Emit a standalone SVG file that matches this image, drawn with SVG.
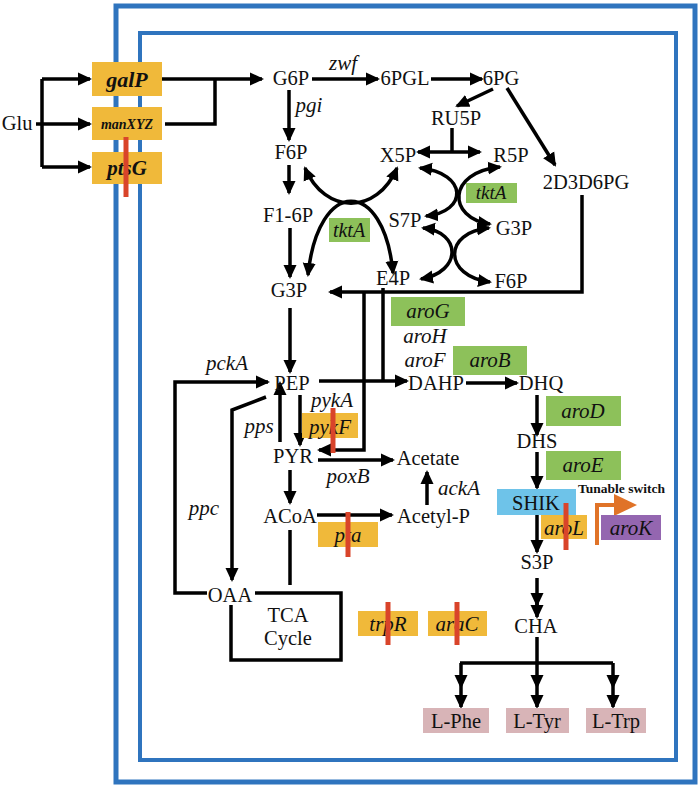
<svg xmlns="http://www.w3.org/2000/svg" width="700" height="787" viewBox="0 0 700 787">
<style>
.t{font-family:"Liberation Serif","Times New Roman",serif;font-size:20.5px;fill:#111;text-anchor:middle}
.g{font-family:"Liberation Serif","Times New Roman",serif;font-size:21px;font-style:italic;fill:#111;text-anchor:middle}
.c{fill:none;stroke:#000;stroke-width:3.5}
.a{marker-end:url(#ah)}
.b{marker-start:url(#ah);marker-end:url(#ah)}
.yel{fill:#F0B93A}
.grn{fill:#8DC15A}
.pink{fill:#D8B4B7}
.ko{stroke:#D9442A;stroke-width:5;fill:none}
.blue{fill:none;stroke:#2F74BE}
</style>
<defs>
<marker id="ah" markerUnits="userSpaceOnUse" markerWidth="15" markerHeight="14" refX="12" refY="7" orient="auto-start-reverse" viewBox="0 0 15 14">
<path d="M0,0.5 L14,7 L0,13.5 z" fill="#000"/>
</marker>
</defs>
<rect width="700" height="787" fill="#fff"/>
<rect class="blue" x="116" y="6" width="579" height="776" stroke-width="5"/>
<rect class="blue" x="140" y="33" width="536" height="727" stroke-width="4"/>

<g id="connectors">
<path class="c" d="M36,124 H42 M42,79 V167"/>
<path class="c a" d="M42,79 H90"/>
<path class="c a" d="M42,124 H90"/>
<path class="c a" d="M42,167 H90"/>
<path class="c a" d="M162,79 H262"/>
<path class="c" d="M165,124 H215 V79"/>
<path class="c a" d="M312,79 H378"/>
<path class="c a" d="M431,79 H482"/>
<path class="c a" d="M493,89 L457,106"/>
<path class="c a" d="M507,88 L555,165"/>
<path class="c a" d="M289,90 V140"/>
<path class="c a" d="M289,165 V193"/>
<path class="c a" d="M290,228 V277"/>
<path class="c" d="M452,128 V152"/>
<path class="c b" d="M418,152 H480"/>
<path class="c b" d="M305,168 C325,215 377,215 397,168"/>
<path class="c b" d="M308,275 C318,177 384,177 393,273"/>
<path class="c b" d="M420,168 C468,173 468,212 426,216"/>
<path class="c b" d="M500,167 C447,172 447,218 490,224"/>
<path class="c b" d="M423,228 C462,232 462,272 421,279"/>
<path class="c b" d="M489,228 C443,232 443,276 490,282"/>
<path class="c a" d="M582,195 V292 H330"/>
<path class="c" d="M383,288 V380"/>
<path class="c a" d="M364,292 V450 H319"/>
<path class="c a" d="M290,308 V372"/>
<path class="c a" d="M319,381 H407"/>
<path class="c a" d="M466,383 H517"/>
<path class="c a" d="M537,395 V435"/>
<path class="c a" d="M537,452 V488"/>
<path class="c a" d="M537,515 V552"/>
<path class="c a" d="M537,578 V605"/>
<path class="c a" d="M537,603 V617"/>
<path class="c" d="M537,637 V663 M460,663 H613"/>
<path class="c a" d="M461,663 V687"/>
<path class="c a" d="M461,687 V707"/>
<path class="c a" d="M537,663 V687"/>
<path class="c a" d="M537,687 V707"/>
<path class="c a" d="M613,663 V687"/>
<path class="c a" d="M613,687 V707"/>
<path class="c a" d="M207,593 H175 V382 H268"/>
<path class="c a" d="M266,397 L232,410 V580"/>
<path class="c a" d="M280,442 V383"/>
<path class="c a" d="M300,395 V445"/>
<path class="c a" d="M290,470 V503"/>
<path class="c a" d="M318,460 H393"/>
<path class="c a" d="M317,515 H392"/>
<path class="c a" d="M427,505 V472"/>
<path class="c" d="M290,530 V585"/>
<path class="c" d="M255,593 H341 V660 H231 V605"/>
<path d="M597,545 V505 H618" fill="none" stroke="#E07328" stroke-width="4"/>
<path d="M614,494 L637,505 L614,516 z" fill="#E07328"/>
</g>

<g id="Glu"><text class="t" x="17" y="130">Glu</text></g>
<g id="galP"><rect class="yel" x="92" y="62" width="70" height="34"/><text class="g" x="127" y="87" font-weight="bold" style="font-size:22px">galP</text></g>
<g id="manXYZ"><rect class="yel" x="92" y="107" width="70" height="33"/><text class="g" x="127" y="129" font-weight="bold" style="font-size:14px">manXYZ</text></g>
<g id="ptsG"><rect class="yel" x="92" y="152" width="70" height="32"/><text class="g" x="127" y="175" font-weight="bold">ptsG</text><path class="ko" d="M126,137 V197"/></g>

<g id="G6P"><text class="t" x="291" y="85">G6P</text></g>
<g id="zwf"><text class="g" x="343" y="70">zwf</text></g>
<g id="6PGL"><text class="t" x="405" y="85">6PGL</text></g>
<g id="6PG"><text class="t" x="501" y="85">6PG</text></g>
<g id="RU5P"><text class="t" x="456" y="125">RU5P</text></g>
<g id="2D3D6PG"><text class="t" x="586" y="189">2D3D6PG</text></g>
<g id="pgi"><text class="g" x="309" y="112">pgi</text></g>
<g id="F6P"><text class="t" x="291" y="159">F6P</text></g>
<g id="F1-6P"><text class="t" x="288" y="222">F1-6P</text></g>
<g id="G3P"><text class="t" x="289" y="297">G3P</text></g>
<g id="X5P"><text class="t" x="398" y="162">X5P</text></g>
<g id="R5P"><text class="t" x="511" y="162">R5P</text></g>
<g id="S7P"><text class="t" x="405" y="227">S7P</text></g>
<g id="G3P-2"><text class="t" x="514" y="235">G3P</text></g>
<g id="E4P"><text class="t" x="393" y="285">E4P</text></g>
<g id="F6P-2"><text class="t" x="511" y="288">F6P</text></g>
<g id="tktA-1"><rect class="grn" x="329" y="218" width="41" height="24"/><text class="g" x="349" y="237" style="font-size:20px">tktA</text></g>
<g id="tktA-2"><rect class="grn" x="466" y="183" width="51" height="20"/><text class="g" x="491" y="199" style="font-size:19px">tktA</text></g>

<g id="aroG"><rect class="grn" x="391" y="297" width="74" height="29"/><text class="g" x="428" y="318">aroG</text></g>
<g id="aroH"><text class="g" x="425" y="343">aroH</text></g>
<g id="aroF"><text class="g" x="425" y="367">aroF</text></g>
<g id="aroB"><rect class="grn" x="453" y="346" width="74" height="29"/><text class="g" x="490" y="367">aroB</text></g>
<g id="DAHP"><text class="t" x="436" y="390">DAHP</text></g>
<g id="DHQ"><text class="t" x="541" y="390">DHQ</text></g>
<g id="aroD"><rect class="grn" x="546" y="396" width="75" height="30"/><text class="g" x="583" y="418">aroD</text></g>
<g id="DHS"><text class="t" x="537" y="448">DHS</text></g>
<g id="aroE"><rect class="grn" x="546" y="451" width="75" height="29"/><text class="g" x="583" y="472">aroE</text></g>
<g id="SHIK"><rect x="497" y="489" width="79" height="26" fill="#6EC3E9"/><text class="t" x="536" y="510">SHIK</text></g>
<g id="aroL"><rect class="yel" x="541" y="515" width="46" height="24"/><text class="g" x="564" y="535">aroL</text><path class="ko" d="M566,503 V550"/></g>
<g id="switch"><text x="578" y="493" style="font-family:'Liberation Serif','Times New Roman',serif;font-size:13.5px;font-weight:bold;fill:#111">Tunable switch</text></g>
<g id="aroK"><rect x="601" y="515" width="60" height="25" fill="#9466B0"/><text class="g" x="631" y="535">aroK</text></g>
<g id="S3P"><text class="t" x="537" y="569">S3P</text></g>
<g id="CHA"><text class="t" x="536" y="633">CHA</text></g>
<g id="L-Phe"><rect class="pink" x="423" y="708" width="66" height="25"/><text class="t" x="456" y="728">L-Phe</text></g>
<g id="L-Tyr"><rect class="pink" x="506" y="708" width="63" height="25"/><text class="t" x="537" y="728">L-Tyr</text></g>
<g id="L-Trp"><rect class="pink" x="586" y="708" width="60" height="25"/><text class="t" x="616" y="728">L-Trp</text></g>
<g id="trpR"><rect class="yel" x="358" y="611" width="60" height="25"/><text class="g" x="388" y="631">trpR</text><path class="ko" d="M388,602 V645"/></g>
<g id="araC"><rect class="yel" x="428" y="611" width="59" height="25"/><text class="g" x="457" y="631">araC</text><path class="ko" d="M457,602 V645"/></g>

<g id="PEP"><text class="t" x="292" y="390">PEP</text></g>
<g id="pckA"><text class="g" x="227" y="370">pckA</text></g>
<g id="pps"><text class="g" x="259" y="433">pps</text></g>
<g id="pykA"><text class="g" x="332" y="407">pykA</text></g>
<g id="pykF"><rect class="yel" x="302" y="413" width="56" height="25"/><text class="g" x="330" y="434">pykF</text><path class="ko" d="M333,408 V453"/></g>
<g id="PYR"><text class="t" x="293" y="463">PYR</text></g>
<g id="Acetate"><text class="t" x="428" y="465">Acetate</text></g>
<g id="poxB"><text class="g" x="348" y="483">poxB</text></g>
<g id="ackA"><text class="g" x="459" y="495">ackA</text></g>
<g id="ACoA"><text class="t" x="290" y="523">ACoA</text></g>
<g id="Acetyl-P"><text class="t" x="397" y="523" style="text-anchor:start">Acetyl-P</text></g>
<g id="pta"><rect class="yel" x="318" y="522" width="60" height="25"/><text class="g" x="348" y="542">pta</text><path class="ko" d="M348,512 V557"/></g>
<g id="ppc"><text class="g" x="204" y="515">ppc</text></g>
<g id="OAA"><text class="t" x="230" y="602">OAA</text></g>
<g id="TCA"><text class="t" x="288" y="622">TCA</text><text class="t" x="288" y="645">Cycle</text></g>
</svg>
